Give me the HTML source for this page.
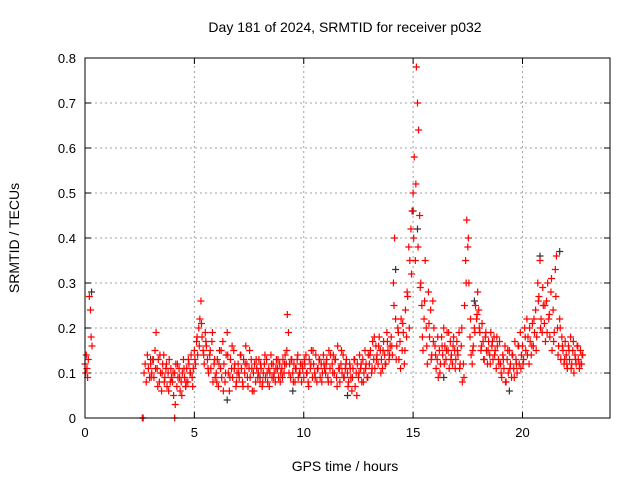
<!DOCTYPE html>
<html><head><meta charset="utf-8"><style>
body{margin:0;background:#fff;}
svg{display:block;font-family:"Liberation Sans",sans-serif;}
</style></head><body>
<svg id="chart" width="640" height="480" xmlns="http://www.w3.org/2000/svg">
<rect width="640" height="480" fill="#fff"/>
<g id="grid"></g>
<g id="ticks"></g>
<g id="pts"></g>
<rect x="85" y="58" width="525" height="360" fill="none" stroke="#000" stroke-width="1"/>
<text x="345" y="32" text-anchor="middle" font-size="14">Day 181 of 2024, SRMTID for receiver p032</text>
<text x="345" y="471" text-anchor="middle" font-size="14">GPS time / hours</text>
<text transform="translate(19,238) rotate(-90)" text-anchor="middle" font-size="14">SRMTID / TECUs</text>
</svg>
<script>
const xTicks=[0,5,10,15,20];
const yTicks=[0,0.1,0.2,0.3,0.4,0.5,0.6,0.7,0.8];
const earlyTimes=[0.0,0.03,0.06,0.09,0.12,0.15,0.2,0.25,0.28,0.32,2.62,2.66,4.1];
const earlyVals=[0.12,0.10,0.14,0.11,0.09,0.13,0.27,0.24,0.18,0.16,0,0,0];
const mainStart=2.7, mainStep=0.05;
const mainVals=[
0.10,0.12,0.08,0.14,0.11,0.09,
0.12,0.10,0.13,0.09,0.15,0.19,0.11,0.13,0.08,0.10,0.06,0.12,0.14,0.09,0.11,0.07,0.10,0.13,0.08,0.09,
0.08,0.05,0.10,0.12,0.07,0.09,0.11,0.06,0.08,0.10,0.13,0.09,0.07,0.11,0.08,0.12,0.10,0.14,0.09,0.11,
0.15,0.12,0.17,0.14,0.20,0.22,0.26,0.18,0.15,0.12,0.19,0.16,0.13,0.10,0.14,0.11,0.17,0.08,0.12,0.09,
0.10,0.13,0.07,0.15,0.11,0.09,0.17,0.12,0.08,0.14,0.19,0.10,0.06,0.13,0.11,0.09,0.15,0.12,0.07,0.10,
0.12,0.09,0.14,0.11,0.08,0.13,0.10,0.16,0.12,0.07,0.11,0.09,0.13,0.06,0.10,0.12,0.08,0.11,0.09,0.13,
0.08,0.11,0.07,0.10,0.12,0.09,0.13,0.08,0.11,0.10,0.14,0.09,0.12,0.10,0.08,0.13,0.11,0.09,0.12,0.10,
0.11,0.13,0.10,0.14,0.12,0.23,0.19,0.12,0.09,0.13,0.10,0.12,0.08,0.11,0.13,0.09,0.10,0.12,0.08,0.11,
0.09,0.12,0.14,0.10,0.08,0.13,0.11,0.15,0.09,0.12,0.10,0.14,0.08,0.11,0.13,0.09,0.12,0.10,0.14,0.11,
0.10,0.13,0.09,0.15,0.11,0.08,0.12,0.14,0.10,0.13,0.09,0.16,0.11,0.08,0.12,0.10,0.14,0.09,0.11,0.13,
0.10,0.08,0.12,0.09,0.06,0.11,0.13,0.07,0.10,0.12,0.09,0.14,0.11,0.08,0.13,0.10,0.15,0.12,0.09,0.14,
0.12,0.15,0.10,0.17,0.13,0.11,0.16,0.14,0.12,0.18,0.15,0.13,0.11,0.17,0.14,0.12,0.19,0.15,0.13,0.16,
0.18,0.14,0.30,0.40,0.22,0.16,0.20,0.13,0.17,0.22,0.15,0.19,0.12,0.24,0.18,0.27,0.38,0.35,0.42,0.46,
0.50,0.58,0.35,0.78,0.70,0.64,0.45,0.30,0.25,0.15,0.22,0.35,0.20,0.12,0.28,0.18,0.24,0.14,0.26,0.20,
0.16,0.11,0.13,0.09,0.15,0.12,0.18,0.14,0.20,0.16,0.13,0.19,0.15,0.11,0.17,0.14,0.12,0.18,0.15,0.13,
0.17,0.14,0.19,0.12,0.16,0.08,0.12,0.25,0.35,0.44,0.38,0.30,0.18,0.14,0.12,0.16,0.20,0.25,0.22,0.28,
0.24,0.19,0.15,0.21,0.17,0.13,0.18,0.15,0.12,0.17,0.14,0.19,0.16,0.13,0.18,0.15,0.11,0.16,0.13,0.17,
0.12,0.09,0.14,0.11,0.16,0.08,0.13,0.10,0.15,0.12,0.09,0.14,0.11,0.17,0.13,0.10,0.16,0.12,0.19,0.14,
0.16,0.13,0.20,0.15,0.22,0.18,0.12,0.17,0.14,0.21,0.16,0.19,0.24,0.18,0.30,0.27,0.35,0.22,0.19,0.25,
0.21,0.17,0.26,0.30,0.22,0.18,0.28,0.15,0.24,0.19,0.33,0.36,0.20,0.16,0.22,0.13,0.18,0.15,0.12,0.17,
0.14,0.11,0.16,0.13,0.18,0.12,0.15,0.10,0.14,0.12,0.16,0.13,0.11,0.15,0.12,0.14];
const secondStart=3.0, secondStep=0.1;
const secondVals=[
0.09,0.13,0.11,0.07,0.14,0.10,0.08,0.12,0.06,0.11,
0.10,0.03,0.12,0.09,0.05,0.11,0.08,0.13,0.10,0.07,
0.13,0.18,0.16,0.21,0.14,0.17,0.11,0.15,0.19,0.13,
0.08,0.12,0.15,0.06,0.10,0.14,0.09,0.16,0.11,0.08,
0.10,0.14,0.07,0.12,0.09,0.15,0.11,0.06,0.13,0.10,
0.12,0.08,0.14,0.10,0.07,0.12,0.09,0.11,0.13,0.08,
0.09,0.12,0.15,0.10,0.13,0.08,0.11,0.14,0.10,0.12,
0.13,0.10,0.07,0.12,0.15,0.09,0.11,0.13,0.08,0.12,
0.12,0.08,0.14,0.10,0.13,0.07,0.11,0.15,0.09,0.12,
0.07,0.11,0.09,0.13,0.05,0.10,0.12,0.08,0.11,0.09,
0.14,0.11,0.18,0.13,0.16,0.10,0.15,0.12,0.17,0.14,
0.16,0.25,0.13,0.19,0.11,0.21,0.15,0.28,0.20,0.32,
0.40,0.52,0.38,0.29,0.18,0.26,0.16,0.21,0.13,0.17,
0.14,0.18,0.10,0.16,0.12,0.15,0.19,0.13,0.16,0.11,
0.15,0.11,0.20,0.09,0.30,0.40,0.22,0.15,0.19,0.23,
0.20,0.16,0.13,0.19,0.15,0.12,0.17,0.14,0.18,0.12,
0.10,0.13,0.08,0.15,0.11,0.14,0.09,0.12,0.16,0.11,
0.12,0.18,0.14,0.20,0.16,0.22,0.15,0.26,0.20,0.29,
0.25,0.19,0.23,0.31,0.17,0.27,0.14,0.20,0.16,0.13,
0.12,0.15,0.11,0.17,0.13,0.16,0.12,0.14];
const darkTimes=[0.3,3.0,4.6,6.5,8.0,9.5,12.0,14.2,15.0,15.2,16.4,17.8,19.4,20.8,21.7];
const darkVals=[0.28,0.13,0.07,0.04,0.09,0.06,0.05,0.33,0.46,0.42,0.09,0.26,0.06,0.36,0.37];

const X0=85,X1=610,Y0=418,Y1=58;
const xs=v=>X0+(v/24)*(X1-X0);
const ys=v=>Y0-(v/0.8)*(Y0-Y1);
const NS="http://www.w3.org/2000/svg";
const grid=document.getElementById('grid'),ticks=document.getElementById('ticks'),pts=document.getElementById('pts');
function mk(tag,attrs,parent){const e=document.createElementNS(NS,tag);for(const k in attrs)e.setAttribute(k,attrs[k]);parent.appendChild(e);return e;}
xTicks.forEach(t=>{
  const x=xs(t);
  if(t>0){const g=mk('line',{x1:x,x2:x,y1:Y0,y2:Y1,stroke:'#a0a0a0','stroke-dasharray':'2,3'},grid);
  
  }
  mk('line',{x1:x,x2:x,y1:Y0,y2:Y0-6,stroke:'#000'},ticks);
  mk('line',{x1:x,x2:x,y1:Y1,y2:Y1+6,stroke:'#000'},ticks);
  const l=mk('text',{x:x,y:Y0+19,'text-anchor':'middle','font-size':'13'},ticks);
  l.textContent=t;
  
  
});
yTicks.forEach(t=>{
  const y=ys(t);
  if(t>0&&t<0.8){const g=mk('line',{x1:X0,x2:X1,y1:y,y2:y,stroke:'#a0a0a0','stroke-dasharray':'2,3'},grid);
  
  }
  mk('line',{x1:X0,x2:X0+6,y1:y,y2:y,stroke:'#000'},ticks);
  mk('line',{x1:X1,x2:X1-6,y1:y,y2:y,stroke:'#000'},ticks);
  const l=mk('text',{x:X0-9,y:y+5,'text-anchor':'end','font-size':'13'},ticks);
  l.textContent=t;
  
  
});
function plus(t,v,col){
  const x=xs(t),y=ys(v);
  const p=mk('path',{d:`M${x-3.5},${y}H${x+3.5}M${x},${y-3.5}V${y+3.5}`,stroke:col,'stroke-width':'1.2',fill:'none'},pts);
  
  
}
darkTimes.forEach((t,i)=>plus(t,darkVals[i],'#333'));
earlyTimes.forEach((t,i)=>plus(t,earlyVals[i],'#f00'));
mainVals.forEach((v,i)=>plus(mainStart+i*mainStep,v,'#f00'));
secondVals.forEach((v,i)=>plus(secondStart+i*secondStep+0.025,v,'#f00'));
</script>
</body></html>
